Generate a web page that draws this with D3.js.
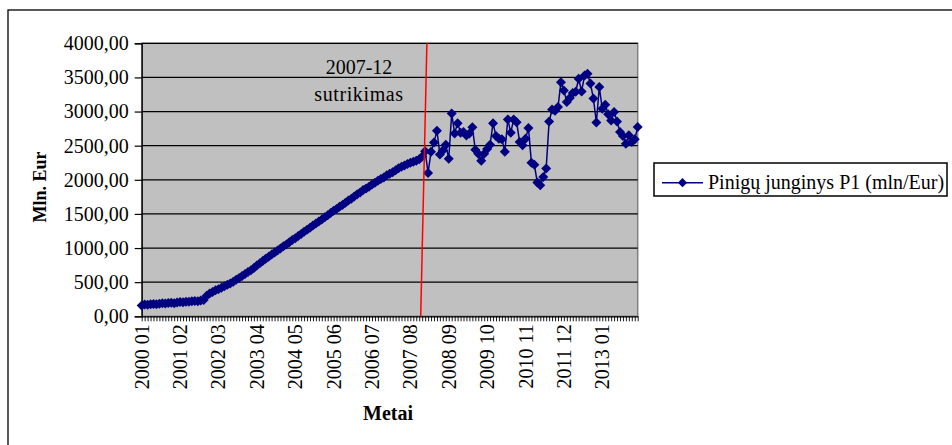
<!DOCTYPE html>
<html>
<head>
<meta charset="utf-8">
<script src="https://cdn.jsdelivr.net/npm/d3@7"></script>
<style>
  html, body { margin: 0; padding: 0; background: #fff; }
  svg text { font-family: "Liberation Serif", "Times New Roman", serif; fill: #000; }
</style>
</head>
<body>
<svg id="chart" width="952" height="445"></svg>
<script>
// Monthly categories, January 2000 through January 2014
const startYear = 2000;
const monthCount = 169;
const months = [];
for (let i = 0; i < monthCount; i++) {
  const y = startYear + Math.floor(i / 12);
  const m = (i % 12) + 1;
  months.push(y + " " + (m < 10 ? "0" + m : "" + m));
}

// Pinigų junginys P1, mln Eur
const p1_2000_2002 = [160, 172, 168, 178, 182, 176, 185, 190, 187, 195, 198, 193,
                      202, 210, 206, 214, 212, 220, 226, 222, 232, 238, 300, 335,
                      357, 380, 398, 420, 440, 462, 481, 508, 535, 563, 590, 620];
const p1_2003_2005 = [648, 676, 706, 745, 778, 812, 845, 872, 905, 933, 965, 995,
                      1025, 1052, 1085, 1118, 1145, 1178, 1205, 1240, 1268, 1298, 1330, 1360,
                      1388, 1420, 1452, 1480, 1512, 1545, 1572, 1605, 1632, 1665, 1695, 1722];
const p1_2006_2007 = [1755, 1788, 1815, 1850, 1872, 1900, 1930, 1955, 1985, 2010, 2035, 2065,
                      2088, 2112, 2140, 2168, 2190, 2210, 2230, 2250, 2265, 2280, 2300, 2340];
const p1_2008_2010 = [2420, 2100, 2410, 2545, 2720, 2370, 2430, 2515, 2310, 2970, 2680, 2830,
                      2690, 2700, 2650, 2680, 2770, 2440, 2380, 2280, 2380, 2450, 2515, 2830,
                      2640, 2600, 2595, 2410, 2885, 2690, 2885, 2845, 2555, 2505, 2600, 2760];
const p1_2011_2014 = [2250, 2220, 1960, 1920, 2040, 2165, 2855, 3030, 3010, 3065, 3430, 3310,
                      3140, 3200, 3270, 3290, 3480, 3295, 3530, 3555, 3410, 3190, 2840, 3360,
                      3040, 3100, 2960, 2870, 2995, 2856, 2700, 2641, 2529, 2651, 2554, 2593,
                      2773];
const p1Values = [].concat(p1_2000_2002, p1_2003_2005, p1_2006_2007, p1_2008_2010, p1_2011_2014);

// Labelled categories on the time axis
const xTickLabels = ["2000 01", "2001 02", "2002 03", "2003 04", "2004 05", "2005 06", "2006 07",
                     "2007 08", "2008 09", "2009 10", "2010 11", "2011 12", "2013 01"];
const yTicks = [0, 500, 1000, 1500, 2000, 2500, 3000, 3500, 4000];

const seriesName = "Pinigų junginys P1 (mln/Eur)";
const breakLabel = ["2007-12", "sutrikimas"];

const svg = d3.select("#chart");
const plot = { left: 141.7, right: 637.7, top: 43.3, bottom: 316.3 };

const x = d3.scaleLinear().domain([0, monthCount - 1]).range([plot.left, plot.right]);
const y = d3.scaleLinear().domain([0, 4000]).range([plot.bottom, plot.top]);
const fmt = v => d3.format(".2f")(v).replace(".", ",");

// Outer frame
svg.append("rect").attr("x", 8).attr("y", 10).attr("width", 980).attr("height", 480)
  .attr("fill", "none").attr("stroke", "#000").attr("stroke-width", 1.3);

// Plot background
svg.append("rect")
  .attr("x", plot.left).attr("y", plot.top)
  .attr("width", plot.right - plot.left).attr("height", plot.bottom - plot.top)
  .attr("fill", "#c0c0c0").attr("stroke", "#808080").attr("stroke-width", 1.5);

// Horizontal gridlines
svg.append("g").selectAll("line").data(yTicks.filter(d => d > 0)).join("line")
  .attr("x1", plot.left).attr("x2", plot.right)
  .attr("y1", d => y(d)).attr("y2", d => y(d))
  .attr("stroke", "#000").attr("stroke-width", 1.3);

// Y axis
const yAxis = svg.append("g").attr("transform", `translate(${plot.left},0)`)
  .call(d3.axisLeft(y).tickValues(yTicks).tickFormat(fmt).tickSize(7).tickPadding(6));
yAxis.select(".domain").attr("stroke", "#000").attr("stroke-width", 1.3);
yAxis.selectAll(".tick line").attr("stroke", "#000").attr("stroke-width", 1.2);
yAxis.selectAll(".tick text").attr("font-size", 20).attr("font-family", "Liberation Serif");

// X axis: a tick for every month
const xAxis = svg.append("g").attr("transform", `translate(0,${plot.bottom})`)
  .call(d3.axisBottom(x).tickValues(d3.range(monthCount)).tickFormat("").tickSize(5).tickSizeOuter(0));
xAxis.select(".domain").attr("stroke", "#000").attr("stroke-width", 1.3);
xAxis.selectAll(".tick line").attr("stroke", "#000").attr("stroke-width", 0.9);

// X labels, rotated
svg.append("g").selectAll("text").data(xTickLabels).join("text")
  .attr("transform", d => `translate(${x(months.indexOf(d))},${plot.bottom + 8}) rotate(-90)`)
  .attr("text-anchor", "end").attr("dy", "0.35em")
  .attr("font-size", 20).text(d => d);

// Series line and diamond markers
const line = d3.line().x((d, i) => x(i)).y(d => y(d));
svg.append("path").datum(p1Values).attr("d", line)
  .attr("fill", "none").attr("stroke", "#000080").attr("stroke-width", 1.5);

const diamond = r => `M0,${-r}L${r},0L0,${r}L${-r},0Z`;
svg.append("g").selectAll("path").data(p1Values).join("path")
  .attr("transform", (d, i) => `translate(${x(i)},${y(d)})`)
  .attr("d", diamond(5)).attr("fill", "#000080");

// Break marker (December 2007)
svg.append("line")
  .attr("x1", x(96.6)).attr("y1", y(4000))
  .attr("x2", x(94.5)).attr("y2", y(0))
  .attr("stroke", "#ff0000").attr("stroke-width", 1.5);
svg.append("g").selectAll("text").data(breakLabel).join("text")
  .attr("x", x(73.6)).attr("y", (d, i) => i === 0 ? y(3550) : y(3150))
  .attr("text-anchor", "middle").attr("font-size", 20)
  .attr("letter-spacing", (d, i) => i === 0 ? 0 : 0.6).text(d => d);

// Axis titles
svg.append("text").attr("x", 388).attr("y", 420).attr("text-anchor", "middle")
  .attr("font-size", 20).attr("font-weight", "bold").text("Metai");
svg.append("text").attr("transform", "translate(46,187) rotate(-90)").attr("text-anchor", "middle")
  .attr("font-size", 18).attr("font-weight", "bold").text("Mln. Eur");

// Legend
const lg = svg.append("g");
lg.append("rect").attr("x", 654).attr("y", 163).attr("width", 293).attr("height", 33)
  .attr("fill", "#fff").attr("stroke", "#000").attr("stroke-width", 1.5);
lg.append("line").attr("x1", 662).attr("x2", 703).attr("y1", 182.7).attr("y2", 182.7)
  .attr("stroke", "#000080").attr("stroke-width", 1.5);
lg.append("path").attr("transform", "translate(682.5,182.7)").attr("d", diamond(4.6)).attr("fill", "#000080");
lg.append("text").attr("x", 708).attr("y", 188.5).attr("font-size", 20).text(seriesName);
</script>
</body>
</html>
